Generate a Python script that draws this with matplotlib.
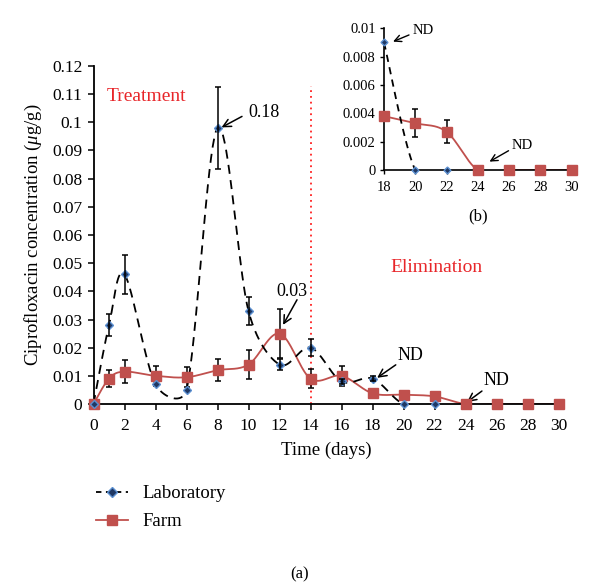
import numpy as np
import matplotlib
matplotlib.use("Agg")
import matplotlib.pyplot as plt
from matplotlib.lines import Line2D

plt.rcParams['font.family'] = ['Liberation Serif', 'DejaVu Serif']
plt.rcParams['mathtext.fontset'] = 'custom'
plt.rcParams['mathtext.rm'] = 'Liberation Serif'
plt.rcParams['mathtext.it'] = 'Liberation Serif:italic'

# ---------------- data ----------------
lab_days = [0, 1, 2, 4, 6, 8, 10, 12, 14, 16, 18, 20, 22]
lab_conc = [0, 0.028, 0.046, 0.007, 0.005, 0.098, 0.033, 0.014, 0.020, 0.008, 0.009, 0, 0]
lab_err = [0, 0.004, 0.007, 0.0006, 0.0008, 0.0145, 0.005, 0.002, 0.003, 0.001, 0.001, 0, 0]

farm_days = [0, 1, 2, 4, 6, 8, 10, 12, 14, 16, 18, 20, 22, 24, 26, 28, 30]
farm_conc = [0, 0.009, 0.0115, 0.010, 0.0095, 0.012, 0.014, 0.025, 0.009, 0.010,
             0.0038, 0.0033, 0.0027, 0, 0, 0, 0]
farm_err = [0, 0.003, 0.004, 0.0035, 0.0035, 0.004, 0.005, 0.0088, 0.0033, 0.0035,
            0, 0.001, 0.0008, 0, 0, 0, 0]

x_ticks = list(range(0, 31, 2))
y_ticks = [0, 0.01, 0.02, 0.03, 0.04, 0.05, 0.06, 0.07, 0.08, 0.09, 0.1, 0.11, 0.12]
y_tick_labels = ['0', '0.01', '0.02', '0.03', '0.04', '0.05', '0.06', '0.07', '0.08',
                 '0.09', '0.1', '0.11', '0.12']
inset_start = 18
inset_x_ticks = list(range(18, 31, 2))
inset_y_ticks = [0, 0.002, 0.004, 0.006, 0.008, 0.01]
inset_y_labels = ['0', '0.002', '0.004', '0.006', '0.008', '0.01']
treatment_end = 14

RED = '#c0504d'
NAVY = '#1f3864'
BLUE = '#5b8fd0'
TXT_RED = '#e8262a'


def excel_smooth(ax, x, y, n=40):
    """Bezier smoothing (Excel-style) computed in display space."""
    pts = ax.transData.transform(np.column_stack([x, y]).astype(float))
    N = len(pts)
    out = [pts[0]]
    t = np.linspace(0, 1, n)[1:, None]
    for i in range(N - 1):
        p1, p2 = pts[i], pts[i + 1]
        p0 = pts[i - 1] if i > 0 else p1
        p3 = pts[i + 2] if i + 2 < N else p2
        d12 = np.linalg.norm(p2 - p1)

        def f(v):
            L = np.linalg.norm(v)
            if L == 0:
                return 0.0
            return min(1 / 6, d12 / 2 / L)
        c1 = p1 + f(p2 - p0) * (p2 - p0)
        c2 = p2 - f(p3 - p1) * (p3 - p1)
        seg = ((1 - t) ** 3) * p1 + 3 * ((1 - t) ** 2) * t * c1 + 3 * (1 - t) * t ** 2 * c2 + t ** 3 * p2
        out.extend(seg)
    out = np.array(out)
    res = ax.transData.inverted().transform(out)
    return res[:, 0], res[:, 1]


def draw_err(ax, xs, ys, es, z, min_err=0.0009):
    pts = [(a, b, c) for a, b, c in zip(xs, ys, es) if c > min_err]
    if not pts:
        return
    xs_, ys_, es_ = zip(*pts)
    ax.errorbar(xs_, ys_, yerr=es_, fmt='none', ecolor='black', elinewidth=1.1,
                capsize=2.5, capthick=1.1, zorder=z)


W, H = 600, 586
fig = plt.figure(figsize=(W / 100, H / 100), dpi=100)

# ---------------- main axes ----------------
ax = fig.add_axes([93.5 / W, 1 - 404 / H, 465 / W, 338 / H])
ax.set_xlim(0, 30)
ax.set_ylim(0, 0.12)
for s in ['top', 'right']:
    ax.spines[s].set_visible(False)
ax.spines['left'].set_linewidth(1.3)
ax.spines['bottom'].set_linewidth(1.3)
ax.set_xticks(x_ticks)
ax.set_xticklabels([str(v) for v in x_ticks], fontsize=12.5)
ax.set_yticks(y_ticks)
ax.set_yticklabels(y_tick_labels, fontsize=12.5)
ax.tick_params(direction='out', length=4, width=1.1, pad=4)
ax.tick_params(axis='x', pad=6)

# treatment end marker
ax.plot([treatment_end, treatment_end], [0, 0.113], color='#ff2020', ls=(0, (1, 2.2)), lw=1.3, zorder=1)

# smoothed lines
fx, fy = excel_smooth(ax, farm_days, farm_conc)
ax.plot(fx, fy, color=RED, lw=1.3, zorder=2)
lx, ly = excel_smooth(ax, lab_days, lab_conc)
ax.plot(lx, ly, color='black', lw=1.3, ls=(0, (5, 3.5)), zorder=3)

# error bars (farm under its markers, lab on top)
draw_err(ax, farm_days, farm_conc, farm_err, 3.5)
draw_err(ax, lab_days, lab_conc, lab_err, 6)

# markers
ax.plot(farm_days, farm_conc, ls='none', marker='s', ms=7.5, color=RED, zorder=4, clip_on=False)
ax.plot(lab_days, lab_conc, ls='none', marker='D', ms=4, mfc=NAVY, mec=BLUE, mew=1.0, zorder=5, clip_on=False)

ax.set_xlabel('Time (days)', fontsize=13.5, va='center')
ax.xaxis.set_label_coords(0.5, (404 - 450) / 338)
ax.set_ylabel(r'Ciprofloxacin concentration ($\mu$g/g)', fontsize=13.5, va='center')
ax.yaxis.set_label_coords((33 - 93.5) / 465, 0.5)

ax.text(3.43, 0.109, 'Treatment', color=TXT_RED, fontsize=14, ha='center', va='center')
ax.text(22.1, 0.0485, 'Elimination', color=TXT_RED, fontsize=14, ha='center', va='center')

arrow = dict(arrowstyle='->', color='black', lw=1.1, shrinkA=0, shrinkB=0, mutation_scale=14)
ax.annotate('', xy=(8.26, 0.0982), xytext=(9.58, 0.1021), arrowprops=arrow)
ax.text(11.0, 0.1036, '0.18', fontsize=13, ha='center', va='center')
ax.annotate('', xy=(12.23, 0.0281), xytext=(13.13, 0.037), arrowprops=arrow)
ax.text(12.8, 0.040, '0.03', fontsize=13, ha='center', va='center')
ax.annotate('', xy=(18.3, 0.0093), xytext=(19.5, 0.0139), arrowprops=arrow)
ax.text(20.42, 0.0171, 'ND', fontsize=13, ha='center', va='center')
ax.annotate('', xy=(24.1, 0.0007), xytext=(25.06, 0.0046), arrowprops=arrow)
ax.text(26.0, 0.0085, 'ND', fontsize=13, ha='center', va='center')

# ---------------- inset ----------------
ins = fig.add_axes([384 / W, 1 - 170 / H, 187.5 / W, 141.7 / H])
ins.set_xlim(18, 30)
ins.set_ylim(0, 0.01)
for s in ['top', 'right']:
    ins.spines[s].set_visible(False)
ins.spines['left'].set_linewidth(1.2)
ins.spines['bottom'].set_linewidth(1.2)
ins.set_xticks(inset_x_ticks)
ins.set_xticklabels([str(v) for v in inset_x_ticks], fontsize=10.5)
ins.set_yticks(inset_y_ticks)
ins.set_yticklabels(inset_y_labels, fontsize=10.5)
ins.tick_params(direction='out', length=3, width=1, pad=3)
ins.tick_params(axis='x', pad=5)

fi = [(d, c, e) for d, c, e in zip(farm_days, farm_conc, farm_err) if d >= inset_start]
li = [(d, c) for d, c in zip(lab_days, lab_conc) if d >= inset_start]
fdi, fci, fei = map(list, zip(*fi))
ldi, lci = map(list, zip(*li))

ifx, ify = excel_smooth(ins, fdi, fci)
ins.plot(ifx, ify, color=RED, lw=1.3, zorder=2)
ilx, ily = excel_smooth(ins, ldi, lci)
ins.plot(ilx, ily, color='black', lw=1.3, ls=(0, (4, 3)), zorder=3)
draw_err(ins, fdi, fci, fei, 3.5, min_err=0)
ins.plot(fdi, fci, ls='none', marker='s', ms=7, color=RED, zorder=4, clip_on=False)
ins.plot(ldi, lci, ls='none', marker='D', ms=3.5, mfc=NAVY, mec=BLUE, mew=1.0, zorder=5, clip_on=False)

arrow2 = dict(arrowstyle='->', color='black', lw=1.0, shrinkA=0, shrinkB=0, mutation_scale=12)
ins.annotate('', xy=(18.58, 0.00906), xytext=(19.6, 0.00953), arrowprops=arrow2)
ins.text(20.48, 0.00988, 'ND', fontsize=10.5, ha='center', va='center')
ins.annotate('', xy=(24.75, 0.00059), xytext=(25.97, 0.00136), arrowprops=arrow2)
ins.text(26.83, 0.00172, 'ND', fontsize=10.5, ha='center', va='center')

fig.text(478 / W, 1 - 216 / H, '(b)', fontsize=12, ha='center', va='center')
fig.text(300 / W, 1 - 574 / H, '(a)', fontsize=12, ha='center', va='center')

# ---------------- legend ----------------
handles = [
    Line2D([], [], color='black', lw=1.3, ls=(0, (3, 2.5)), marker='D', ms=5, mfc=NAVY, mec=BLUE),
    Line2D([], [], color=RED, lw=1.3, marker='s', ms=7.5),
]
fig.legend(handles, ['Laboratory', 'Farm'], loc='upper left',
           bbox_to_anchor=(96 / W, 1 - 485 / H), frameon=False, fontsize=13.5,
           handlelength=1.7, handletextpad=0.8, labelspacing=0.6,
           borderpad=0, borderaxespad=0, numpoints=1)

fig.savefig('out.png', dpi=100)
